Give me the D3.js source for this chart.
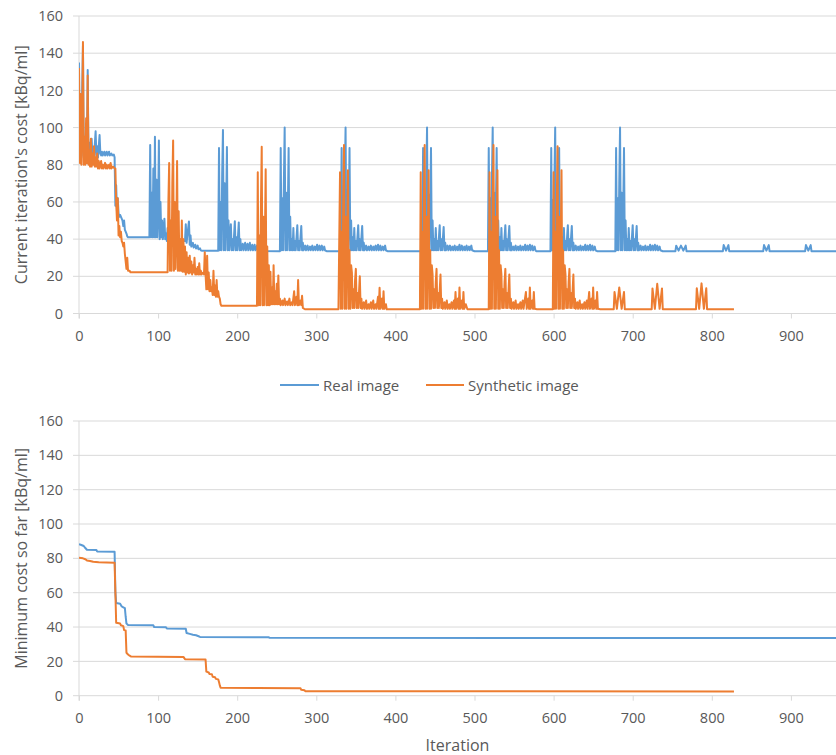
<!DOCTYPE html>
<html>
<head>
<meta charset="utf-8">
<script src="https://cdn.jsdelivr.net/npm/d3@7"></script>
<style>
  body { margin: 0; background: #fff; }
  text { font-family: "Open Sans", sans-serif; fill: #595959; }
</style>
</head>
<body>
<svg id="chart" width="836" height="755"></svg>
<script>
const xTicks = [0, 100, 200, 300, 400, 500, 600, 700, 800, 900];
const yTicks = [0, 20, 40, 60, 80, 100, 120, 140, 160];
const seriesNames = ['Real image', 'Synthetic image'];
const seriesColors = ['#5B9BD5', '#ED7D31'];

// [iteration, cost]
const realCost = [
  [0,135],[1,85],[2,110],[3,84],[4,120],[5,144],[6,85],[7,95],[8,84],[9,100],[10,85],[11,131],[12,85],[13,92],[14,84],
  [16,94],[17,84],[18,88],[19,84],[21,98],[22,85],[23,90],[24,84],[26,96],[27,86],[28,85],[29,87],[30,85],[32,87],[33,85],
  [35,87],[36,85],[38,87],[39,85],[41,86],[42,85],[44,85.5],[45,84],
  [46,58],[47,69],[48,55],[49,62],[50,54],[51,52],[52,53],[54,51],[55,50],[56,47],[57,50],[58,45],[59,44],[60,43],[61,41.5],[62,41],
  [89,41],[90,90.6],[91,41],[92,65],[93,41],[94,78],[95,41],[96,95],[97,41],[98,72],[99,41],[100,55],[101,93],[102,40],[103,60],
  [104,41],[105,50],[106,40],[107,45],[108,51],[109,40],[110,43],[111,39],[112,46],[113,39.5],[114,42],[115,39],[117,41],[118,39],
  [120,42],[121,39],[123,41],[124,39],[126,40],[128,39],[130,40],[132,39],[134,39],[135,48],[136,38],[137,42],[139,49.5],[140,37],
  [141,42],[142,36],[144,38],[145,35.5],[147,37],[148,35],[150,36.5],[151,34.5],[153,35],[154,34],[155,33.8],
  [176,33.8],[177,89],[178,34],[179,60],[180,34],[181,75],[182,98.7],[183,34],[184,70],[185,34],[186,55],[187,89.5],[188,34],
  [189,50],[190,34],[191,42],[192,48],[193,34],[194,40],[195,34],[197,49.6],[198,34],[199,41],[200,34],[202,49],[203,34],[204,40],
  [205,34],[207,37.5],[208,34],[210,38],[211,34],[213,37.5],[214,34],[216,38],[217,34],[219,37],[220,34],[222,37],[223,34],
  [225,36.5],[226,34],[228,33.6],
  [254,33.5],[255,89],[256,34],[257,62],[258,34],[259,70],[260,100],[261,34],[262,65],[263,34],[264,55],[265,89],[266,34],
  [267,52],[268,34],[269,40],[270,34],[271,46],[272,34],[273,39],[274,34],[276,47.5],[277,34],[278,39],[279,34],[281,47],[282,34],
  [283,38],[284,34],[286,36.5],[287,34],[289,36.5],[290,34],[292,36],[293,34],[295,36.5],[296,34],[298,36],[299,34],[301,37],
  [302,34],[304,36.5],[305,34],[307,36.5],[308,34],[310,36],[311,34],[313,33.5],
  [331,33.5],[332,89],[333,34],[334,60],[335,34],[336,72],[337,100],[338,34],[339,66],[340,34],[341,52],[342,89],[343,34],
  [344,50],[345,34],[346,41],[347,34],[348,46],[349,34],[350,39],[351,34],[353,47.5],[354,34],[355,40],[356,34],[358,47],[359,34],
  [360,38],[361,34],[363,36.5],[364,34],[366,36],[367,34],[369,36.5],[370,34],[372,36],[373,34],[375,36.5],[376,34],[378,37],
  [379,34],[381,36.5],[382,34],[384,36],[385,34],[387,36.5],[388,34],[390,33.5],
  [434,33.5],[435,89],[436,34],[437,63],[438,34],[439,70],[440,100],[441,34],[442,64],[443,34],[444,55],[445,89],[446,34],
  [447,50],[448,34],[449,40],[450,34],[451,46],[452,34],[453,39],[454,34],[456,47.5],[457,34],[458,40],[459,34],[461,46.5],
  [462,34],[463,38],[464,34],[466,36.5],[467,34],[469,36.5],[470,34],[472,36],[473,34],[475,36.5],[476,34],[478,36],[479,34],
  [481,37],[482,34],[484,36.5],[485,34],[487,36],[488,34],[490,36.5],[491,34],[493,36],[494,34],[496,36.5],[497,34],[500,33.5],
  [517,33.5],[518,89],[519,34],[520,62],[521,34],[522,72],[523,100],[524,34],[525,65],[526,34],[527,54],[528,89],[529,34],
  [530,50],[531,34],[532,41],[533,34],[534,46],[535,34],[536,39],[537,34],[539,47.5],[540,34],[541,40],[542,34],[544,47],[545,34],
  [546,38],[547,34],[549,36],[550,34],[552,36.5],[553,34],[555,36],[556,34],[558,36.5],[559,34],[561,36],[562,34],[564,37],
  [565,34],[567,36.5],[568,34],[570,37],[571,34],[573,36.5],[574,34],[576,36],[577,34],[578,33.5],
  [596,33.5],[597,89],[598,34],[599,61],[600,34],[601,71],[602,100],[603,34],[604,66],[605,34],[606,53],[607,89],[608,34],
  [609,50],[610,34],[611,41],[612,34],[613,46],[614,34],[615,39],[616,34],[618,47.5],[619,34],[620,40],[621,34],[623,47],[624,34],
  [625,38],[626,34],[628,36.5],[629,34],[631,36],[632,34],[634,36.5],[635,34],[637,36],[638,34],[640,37],[641,34],[643,36.5],
  [644,34],[646,37],[647,34],[649,36.5],[650,34],[652,36],[653,34],[655,33.5],
  [678,33.5],[679,89],[680,34],[681,62],[682,34],[683,70],[684,100],[685,34],[686,65],[687,34],[688,55],[689,89],[690,34],
  [691,50],[692,34],[693,40],[694,34],[695,46],[696,34],[697,39],[698,34],[700,47.5],[701,34],[702,40],[703,34],[705,47],[706,34],
  [707,38],[708,34],[710,36.5],[711,34],[713,36],[714,34],[716,36.5],[717,34],[719,36],[720,34],[722,37],[723,34],[725,36.5],
  [726,34],[728,37],[729,34],[731,36.5],[732,34],[734,36],[735,34],[738,33.5],
  [754,33.5],[755,36.5],[758,33.8],[761,36.5],[764,33.8],[767,36.5],[768,33.5],
  [814,33.5],[815,36.8],[818,33.8],[821,36.8],[822,33.5],
  [865,33.5],[866,36.8],[869,33.8],[872,36.8],[873,33.5],
  [918,33.5],[919,36.8],[922,33.8],[925,36.8],[926,33.5],[960,33.5]
];

const synthCost = [
  [0,132],[1,81],[2,118],[3,80],[4,100],[5,146],[6,80],[7,95],[8,80],[9,105],[10,81],[11,128],[12,80],[13,88],[14,79],
  [15,94],[16,79],[17,86],[18,80],[19,90],[20,79],[21,84],[22,79],[23,86],[24,78],[25,82],[26,78],[28,82],[29,78],[30,80],
  [31,78],[33,81],[34,78],[35,80],[36,78],[38,80],[39,78],[40,81],[41,78],[43,79],[45,78],
  [46,78],[47,60],[48,50],[49,62],[50,42],[51,47],[52,41],[53,44],[54,39],[55,38],[56,36],[57,38],[58,32],[59,28],[60,24],
  [61,30],[62,23],[64,23],[65,22.2],
  [112,22.2],[113,60],[114,81],[115,23],[116,50],[117,23],[118,70],[119,93],[120,23],[121,60],[122,24],[123,45],[124,82],
  [125,23],[126,55],[127,23],[128,40],[129,23],[130,50],[131,22.5],[132,40],[133,22.5],[134,36],[135,21],[136,33],[137,22],
  [138,30],[139,21.5],[140,31],[141,22],[142,28],[143,21],[144,26],[145,22],[146,30],[147,21],[148,24],[149,21],[150,25],
  [151,21],[152,27],[153,21],[154,23],[155,21],[157,22],[158,21],[159,33],[160,21],[161,13],[162,31],[163,13],[164,22],
  [165,12],[166,18],[167,12],[168,14],[169,10],[170,23],[171,10],[172,15],[173,9],[174,18],[175,9],[176,12],[177,9],[178,8],
  [179,5],[180,4.2],
  [225,4.2],[226,76],[227,4.5],[228,42],[229,4.5],[230,58],[231,89.7],[232,4.5],[233,52],[234,4.5],[235,38],[236,77.6],
  [237,4.5],[238,36],[239,4.5],[240,26],[241,4.5],[242,22.5],[243,5],[244,14],[245,5],[246,26],[247,5],[248,12],[249,5],
  [250,16],[251,5],[252,20.5],[253,5],[254,8],[255,4.5],[257,7],[258,4.5],[260,8],[261,4.5],[263,6.5],[264,4.5],[266,8],
  [267,4.5],[269,6],[270,4.5],[272,12],[273,4.5],[275,9],[276,4.5],[277,18],[278,4.5],[280,7],[281,4.5],[282,9.5],[283,3],
  [285,2.5],[286,2.3],
  [328,2.3],[330,76],[331,2.5],[332,44],[333,2.5],[334,60],[335,90.6],[336,2.5],[337,52],[338,2.5],[339,38],[340,77],
  [341,2.5],[342,34],[343,2.5],[344,26],[345,22],[346,3],[347,13],[348,3],[349,18],[350,24],[351,3],[352,11],[353,3],
  [355,20],[356,3],[357,8],[358,2.5],[360,6],[361,2.5],[363,7],[364,2.5],[366,5],[367,2.5],[369,6],[370,2.5],[372,7],
  [373,2.5],[375,5],[376,2.5],[378,9],[379,2.5],[380,13.8],[381,2.5],[383,8],[384,2.5],[385,12],[386,2.5],[388,5],[389,2.3],
  [431,2.3],[432,76],[433,2.5],[434,44],[435,2.5],[436,60],[437,90.6],[438,2.5],[439,52],[440,2.5],[441,38],[442,77],
  [443,2.5],[444,34],[445,2.5],[446,26],[447,21],[448,3],[449,13],[450,3],[451,17],[452,24],[453,3],[454,11],[455,3],
  [457,21],[458,3],[459,8],[460,2.5],[462,6],[463,2.5],[465,7],[466,2.5],[468,5],[469,2.5],[471,6],[472,2.5],[474,7],
  [475,2.5],[476,11.6],[477,2.5],[479,8],[480,2.5],[481,14],[482,2.5],[484,7],[485,2.5],[486,11.6],[487,2.5],[489,5],[491,2.3],
  [518,2.3],[519,76],[520,2.5],[521,44],[522,2.5],[523,60],[524,90.6],[525,2.5],[526,52],[527,2.5],[528,38],[529,77],
  [530,2.5],[531,34],[532,2.5],[533,26],[534,21],[535,3],[536,13],[537,3],[538,17],[539,24],[540,3],[541,11],[542,3],
  [544,21],[545,3],[546,8],[547,2.5],[549,6],[550,2.5],[552,7],[553,2.5],[555,5],[556,2.5],[558,6],[559,2.5],[561,7],
  [562,2.5],[565,11.6],[566,2.5],[568,8],[569,2.5],[570,14],[571,2.5],[573,7],[574,2.5],[575,11.6],[576,2.5],[579,2.3],
  [599,2.3],[600,76],[601,2.5],[602,44],[603,2.5],[604,60],[605,90],[606,2.5],[607,52],[608,2.5],[609,38],[610,77],
  [611,2.5],[612,34],[613,2.5],[614,26],[615,21],[616,3],[617,13],[618,3],[619,17],[620,24],[621,3],[622,11],[623,3],
  [625,21],[626,3],[627,8],[628,2.5],[630,6],[631,2.5],[633,7],[634,2.5],[636,5],[637,2.5],[639,6],[640,2.5],[642,7],
  [643,2.5],[645,11.6],[646,2.5],[648,8],[649,2.5],[650,14],[651,2.5],[653,7],[654,2.5],[655,11.6],[656,2.5],[659,2.3],
  [676,2.3],[677,11.6],[680,2.5],[683,14],[686,2.5],[689,11.6],[690,2.3],
  [724,2.3],[725,13.5],[728,2.5],[731,16],[734,2.5],[737,13.5],[738,2.3],
  [780,2.3],[781,13.6],[784,2.5],[787,16.2],[790,2.5],[793,13.6],[794,2.3],[828,2.3]
];

// [iteration, minimum cost so far]
const realMin = [
  [0,88.3],[3,87.8],[6,87.2],[8,86],[10,85],[22,84.8],[23,84],[45,83.8],[46,60],[47,54],[52,53.5],[54,52],[56,51.5],
  [58,51],[59,46],[60,42],[62,41.2],[94,41],[95,40],[110,39.8],[111,39.2],[135,39],[136,36.5],[140,36],[144,35.5],
  [148,35.2],[152,34.5],[153,34.2],[240,34],[241,33.7],[960,33.6]
];
const synthMin = [
  [0,80.3],[5,80],[8,79.5],[10,78.8],[14,78.5],[18,78],[25,77.8],[45,77.5],[46,60],[47,42.5],[52,42],[53,41],[56,40.5],
  [57,38.2],[59,38],[60,25],[62,24],[64,23.3],[66,22.8],[132,22.6],[134,21.3],[160,21.1],[161,14],[164,13.5],[165,12.6],
  [168,12.5],[169,11],[172,10.8],[173,9.8],[176,9.5],[177,8],[178,6],[179,4.7],[225,4.5],[280,4.3],[281,3.4],[285,3.2],
  [286,2.6],[828,2.5]
];

const svg = d3.select('#chart');
const gridColor = '#d9d9d9';
const left = 79, right = 836;
const x = d3.scaleLinear().domain([0, 957]).range([left, right]);

const panels = [
  { top: 16, bottom: 313.5, title: "Current iteration's cost [kBq/ml]", series: [realCost, synthCost] },
  { top: 421, bottom: 695.7, title: 'Minimum cost so far [kBq/ml]', series: [realMin, synthMin] },
];

panels.forEach((p, i) => {
  const y = d3.scaleLinear().domain([0, 160]).range([p.bottom, p.top]);
  const g = svg.append('g');

  g.selectAll('.grid').data(yTicks).join('line')
    .attr('x1', left - 6).attr('x2', right)
    .attr('y1', d => y(d)).attr('y2', d => y(d))
    .attr('stroke', gridColor).attr('stroke-width', 1);

  g.append('line')
    .attr('x1', left).attr('x2', left).attr('y1', p.top).attr('y2', p.bottom + 5)
    .attr('stroke', gridColor);

  // y labels
  const yAxis = d3.axisLeft(y).tickValues(yTicks).tickSize(6).tickPadding(10);
  const ya = g.append('g').attr('transform', `translate(${left},0)`).call(yAxis);
  ya.select('.domain').remove();
  ya.selectAll('line').remove();
  ya.selectAll('text').style('font-size', '14.5px').attr('fill', '#595959');

  // x axis
  const xAxis = d3.axisBottom(x).tickValues(xTicks).tickSize(5).tickPadding(12);
  const xa = g.append('g').attr('transform', `translate(0,${p.bottom})`).call(xAxis);
  xa.select('.domain').remove();
  xa.selectAll('line').attr('stroke', gridColor);
  xa.selectAll('text').style('font-size', '14.5px').attr('fill', '#595959');

  // axis title
  g.append('text')
    .attr('transform', `translate(21,${(p.top + p.bottom) / 2}) rotate(-90)`)
    .attr('text-anchor', 'middle').attr('dominant-baseline', 'central')
    .style('font-size', '16px')
    .text(p.title);

  svg.append('clipPath').attr('id', 'clip' + i)
    .append('rect').attr('x', left).attr('y', p.top - 10)
    .attr('width', right - left).attr('height', p.bottom - p.top + 20);

  const line = d3.line().x(d => x(d[0])).y(d => y(d[1]));
  p.series.forEach((s, k) => {
    g.append('path').datum(s)
      .attr('clip-path', `url(#clip${i})`)
      .attr('fill', 'none')
      .attr('stroke', seriesColors[k])
      .attr('stroke-width', 2)
      .attr('stroke-linejoin', 'round')
      .attr('d', line);
  });
});

// legend
const legend = [
  { x1: 280, x2: 319, tx: 323 },
  { x1: 426, x2: 464, tx: 468 },
];
legend.forEach((l, k) => {
  svg.append('line').attr('x1', l.x1).attr('x2', l.x2).attr('y1', 385).attr('y2', 385)
    .attr('stroke', seriesColors[k]).attr('stroke-width', 2);
  svg.append('text').attr('x', l.tx).attr('y', 385)
    .attr('dominant-baseline', 'central').style('font-size', '15px')
    .text(seriesNames[k]);
});

svg.append('text').attr('x', (left + right) / 2).attr('y', 745)
  .attr('text-anchor', 'middle').attr('dominant-baseline', 'central')
  .style('font-size', '16px').text('Iteration');
</script>
</body>
</html>
